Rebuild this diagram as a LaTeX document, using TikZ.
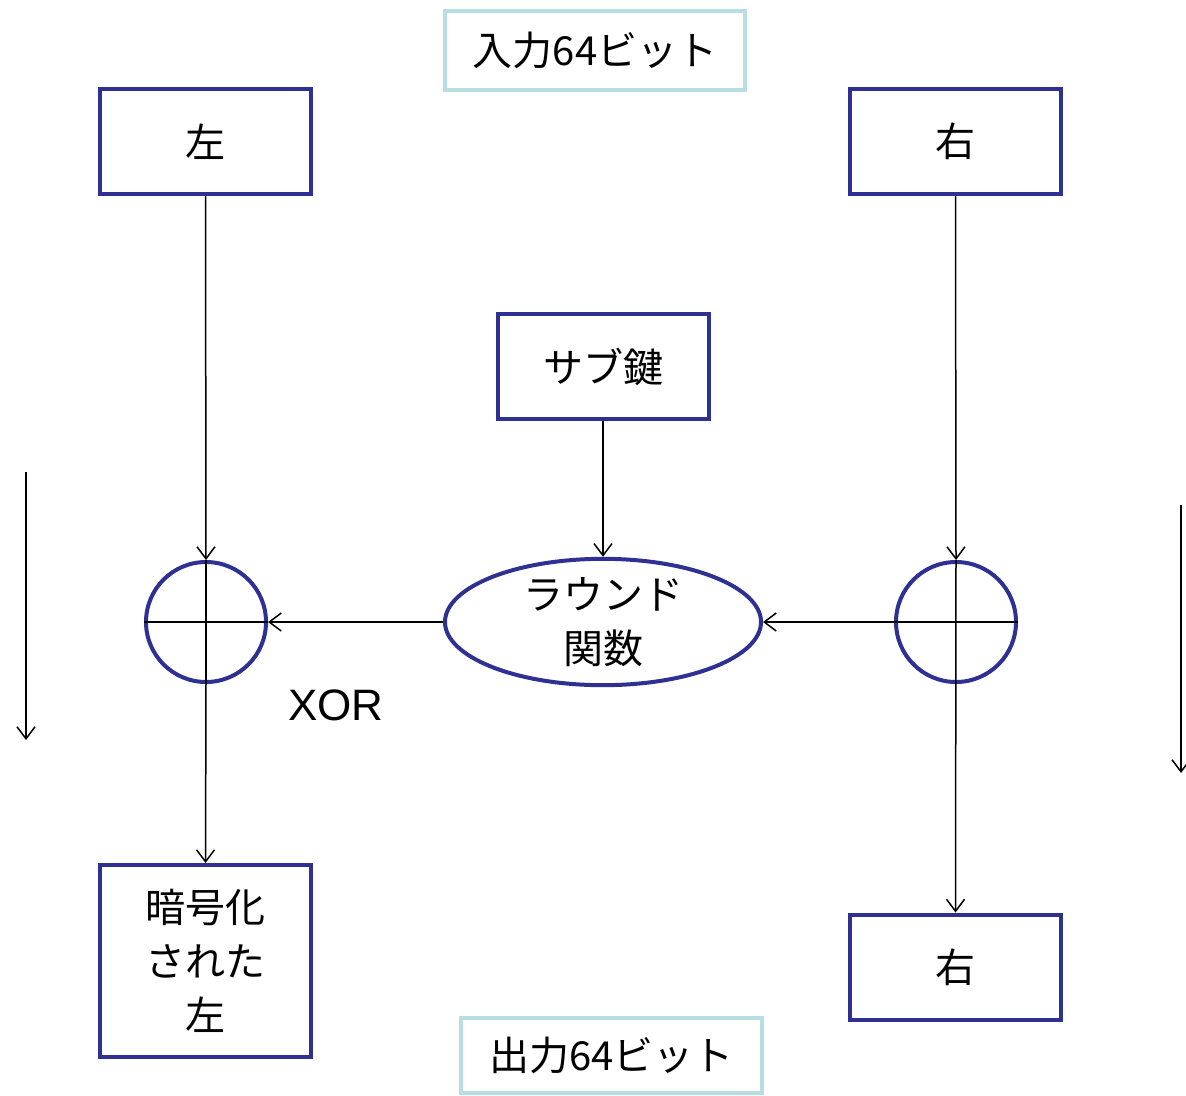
\documentclass[tikz,border=0pt]{standalone}
\usepackage{fontspec}
\setmainfont{Noto Sans CJK JP}
\newfontfamily\latinf{Liberation Sans}
\usetikzlibrary{arrows.meta,shapes.geometric}
\definecolor{navy}{HTML}{2E3192}
\definecolor{lblue}{HTML}{B7DEE2}
\tikzset{
  blk/.style={draw=navy,line width=4pt,minimum width=211pt,minimum height=105pt,inner sep=0pt,font=\fontsize{40}{54}\selectfont,align=center},
  lbl/.style={draw=lblue,line width=3.5pt,fill=white,inner sep=0pt,font=\fontsize{40}{48}\selectfont},
  xorc/.style={draw=navy,line width=4pt,circle,minimum size=120pt,inner sep=0pt},
  conn/.style={line width=1.5pt,-{Straight Barb[length=12pt,width=18pt,line width=1.5pt]}},
  thin/.style={line width=1.5pt}
}
\begin{document}
\begin{tikzpicture}[x=1pt,y=-1pt]
\useasboundingbox (0,0) rectangle (1186,1095);
\node[lbl,minimum width=300pt,minimum height=79pt] (in) at (595,50.5) {入力64ビット};
\node[blk] (L) at (205.5,141.5) {左};
\node[blk] (R) at (955.5,141.5) {右};
\node[blk] (K) at (603,366.5) {サブ鍵};
\node[xorc] (XL) at (206,622) {};
\node[xorc] (XR) at (956,622) {};
\node[draw=navy,line width=4pt,ellipse,minimum width=316pt,minimum height=120pt,inner sep=0pt,align=center,font=\fontsize{40}{54}\selectfont] (F) at (603,622) {ラウンド\\関数};
\draw[thin] (XL.north) -- (XL.south) (XL.west) -- (XL.east);
\draw[thin] (XR.west) -- (XR.east);
\node[font=\latinf\fontsize{44}{48}\selectfont] (x) at (336,705) {XOR};
\node[blk,minimum height=192pt] (OL) at (205.5,961) {暗号化\\された\\左};
\node[blk] (OR) at (955.5,967) {右};
\node[lbl,minimum width=301pt,minimum height=75pt] (out) at (611.5,1055.5) {出力64ビット};
\draw[conn] (L.south) -- (XL.north);
\draw[conn] (R.south) -- (XR.north);
\draw[conn] (K.south) -- (F.north);
\draw[conn] (XR.west) -- (F.east);
\draw[conn] (F.west) -- (XL.east);
\draw[conn] (XL.south) -- (OL.north);
\draw[conn] (XR.north) -- (OR.north);
\coordinate (a1) at (26,472); \coordinate (a2) at (26,740);
\coordinate (b1) at (1181,505); \coordinate (b2) at (1181,773);
\draw[conn] (a1) -- (a2);
\draw[conn] (b1) -- (b2);
\end{tikzpicture}
\end{document}
